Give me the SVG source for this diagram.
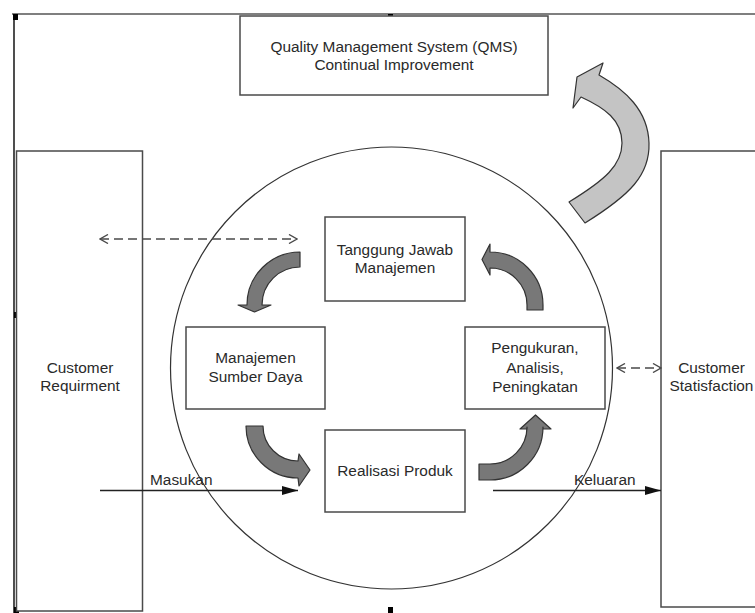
<svg xmlns="http://www.w3.org/2000/svg" width="755" height="613" viewBox="0 0 755 613">
  <defs>
    <style>
      .box { fill: #ffffff; stroke: #4a4a4a; stroke-width: 1.5; }
      .lbl { font-family: "Liberation Sans", Arial, sans-serif; font-size: 15.4px; fill: #2a2a2a; text-anchor: middle; }
      .lbl-l { font-family: "Liberation Sans", Arial, sans-serif; font-size: 15.4px; fill: #2a2a2a; }
      .dash { fill: none; stroke: #4a4a4a; stroke-width: 1.4; stroke-dasharray: 9 5; }
      .solid { fill: none; stroke: #222222; stroke-width: 1.3; }
      .cycle { fill: #787878; stroke: #333333; stroke-width: 1.2; stroke-linejoin: round; }
      .improve { fill: #c4c4c4; stroke: #333333; stroke-width: 1.2; stroke-linejoin: round; }
      .handle { fill: #000000; }
    </style>
    <marker id="open" viewBox="0 0 10 10" refX="9" refY="5" markerWidth="10" markerHeight="10" markerUnits="userSpaceOnUse" orient="auto-start-reverse">
      <path d="M1,0.5 L9,5 L1,9.5" fill="none" stroke="#4a4a4a" stroke-width="1.4"/>
    </marker>
    <marker id="filled" viewBox="0 0 16 10" refX="16" refY="5" markerWidth="16" markerHeight="10" markerUnits="userSpaceOnUse" orient="auto">
      <path d="M0,0.5 L16,5 L0,9.5 Z" fill="#111111"/>
    </marker>
  </defs>

  <rect width="755" height="613" fill="#ffffff"/>

  <!-- page frame -->
  <g id="frame">
    <line x1="12" y1="14" x2="755" y2="14" stroke="#555555" stroke-width="1.6"/>
    <line x1="14" y1="14" x2="14" y2="613" stroke="#222222" stroke-width="1.6"/>
    <rect class="handle" x="13" y="14" width="5" height="6"/>
    <rect class="handle" x="388" y="14" width="5" height="6"/>
    <rect class="handle" x="14" y="312" width="5" height="6"/>
    <rect class="handle" x="14" y="607" width="5" height="6"/>
    <rect class="handle" x="388" y="607" width="5" height="6"/>
  </g>

  <!-- process circle -->
  <circle id="process-circle" cx="391.5" cy="368" r="221" fill="none" stroke="#333333" stroke-width="1.2"/>

  <g id="qms">
    <rect class="box" x="240" y="16" width="308" height="79"/>
    <text class="lbl" x="394" y="52">Quality Management System (QMS)</text>
    <text class="lbl" x="394" y="70">Continual Improvement</text>
  </g>

  <g id="customer-req">
    <rect class="box" x="16.5" y="151" width="126" height="460"/>
    <text class="lbl" x="80" y="373">Customer</text>
    <text class="lbl" x="80" y="391">Requirment</text>
  </g>

  <g id="customer-sat">
    <rect class="box" x="661" y="151" width="110" height="456"/>
    <text class="lbl" x="711.5" y="373">Customer</text>
    <text class="lbl" x="711.5" y="391">Statisfaction</text>
  </g>

  <g id="tanggung-jawab">
    <rect class="box" x="325" y="217" width="140" height="84"/>
    <text class="lbl" x="395" y="255">Tanggung Jawab</text>
    <text class="lbl" x="395" y="273">Manajemen</text>
  </g>

  <g id="sumber-daya">
    <rect class="box" x="186" y="327" width="139" height="82"/>
    <text class="lbl" x="255.5" y="363">Manajemen</text>
    <text class="lbl" x="255.5" y="382">Sumber Daya</text>
  </g>

  <g id="pengukuran">
    <rect class="box" x="465" y="327" width="140" height="82"/>
    <text class="lbl" x="535" y="353">Pengukuran,</text>
    <text class="lbl" x="535" y="373">Analisis,</text>
    <text class="lbl" x="535" y="392">Peningkatan</text>
  </g>

  <g id="realisasi">
    <rect class="box" x="325" y="430" width="140" height="82"/>
    <text class="lbl" x="395" y="476">Realisasi Produk</text>
  </g>

  <!-- connectors -->
  <g id="connectors">
    <line class="dash" x1="100" y1="239" x2="297" y2="239" marker-start="url(#open)" marker-end="url(#open)"/>
    <line class="dash" x1="617" y1="368" x2="661" y2="368" marker-start="url(#open)" marker-end="url(#open)"/>

    <line class="solid" x1="100" y1="490.5" x2="298" y2="490.5" marker-end="url(#filled)"/>
    <text class="lbl-l" x="150" y="485">Masukan</text>
    <line class="solid" x1="493" y1="490.5" x2="661" y2="490.5" marker-end="url(#filled)"/>
    <text class="lbl-l" x="574" y="485">Keluaran</text>

    <!-- cycle arrows between the four processes -->
    <path class="cycle" d="M300,252 A53,53 0 0 0 247,305 L238,305 L254.5,312 L271,305 L262,305 A38,38 0 0 1 300,267 Z"/>
    <path class="cycle" d="M246,426 A52,52 0 0 0 298,478 L299,486 L310,470 L299,454 L298,461 A35,35 0 0 1 263,426 Z"/>
    <path class="cycle" d="M479,464 L479,480 L490,480 A53,53 0 0 0 543,427 L543,429 L551,429 L535.5,415 L520,429 L527,429 L527,427 A37,37 0 0 1 490,464 Z"/>
    <path class="cycle" d="M527,310 L543,310 L543,305 A53,53 0 0 0 490,252 L490,244 L482,259.5 L490,275 L490,268 A37,37 0 0 1 527,305 Z"/>

    <!-- continual improvement arrow -->
    <path class="improve" d="M577,77 L603,63 L599,75 C625,90 648,110 649,143 C650,175 630,195 585,223 L569,202 C605,180 622,165 622,143 C622,120 605,108 581,97 L573,108 Z"/>
  </g>
</svg>
